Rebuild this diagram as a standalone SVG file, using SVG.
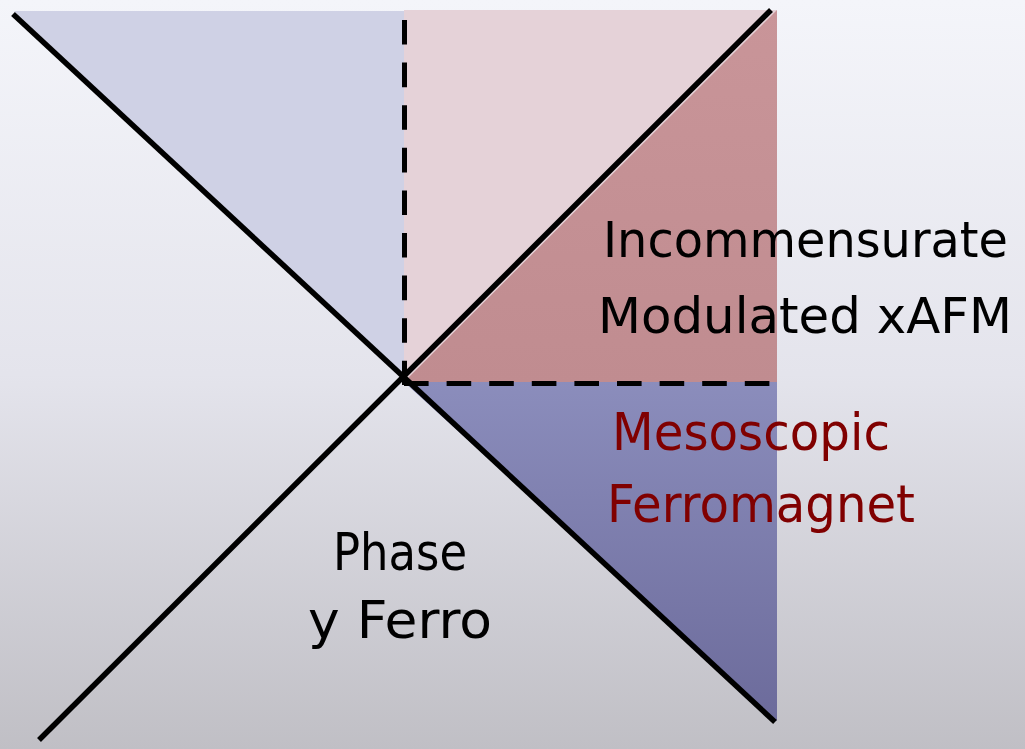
<svg xmlns="http://www.w3.org/2000/svg" width="1025" height="749" viewBox="0 0 1025 749">
  <defs>
    <linearGradient id="bg" x1="0" y1="0" x2="0" y2="1">
      <stop offset="0" stop-color="#f4f5fa"/>
      <stop offset="0.5" stop-color="#e4e4ec"/>
      <stop offset="1" stop-color="#c0bfc5"/>
    </linearGradient>
    <linearGradient id="blueLow" x1="0" y1="382" x2="0" y2="720" gradientUnits="userSpaceOnUse">
      <stop offset="0" stop-color="#8b8dbc"/>
      <stop offset="1" stop-color="#6c6b9b"/>
    </linearGradient>
    <linearGradient id="pinkDark" x1="0" y1="10" x2="0" y2="382" gradientUnits="userSpaceOnUse">
      <stop offset="0" stop-color="#c99599"/>
      <stop offset="1" stop-color="#c08c90"/>
    </linearGradient>
    <style>
      .edge { stroke: #000; stroke-width: 5.5; fill: none; }
      .dash { stroke: #000; stroke-width: 5; fill: none; stroke-dasharray: 24.6 18; }
      .lbl { font-family: "DejaVu Sans", "Liberation Sans", sans-serif; font-size: 52px; }
      .lbl.tight { font-size: 49px; }
      .dark { fill: #000; }
      .red { fill: #800000; }
    </style>
  </defs>

  <rect width="1025" height="749" fill="url(#bg)"/>

  <!-- shaded regions -->
  <g id="region-upper-left">
    <polygon points="14,11 404,11 404,380" fill="#cfd1e5"/>
  </g>
  <g id="region-upper-right">
    <rect x="404" y="10" width="373" height="372" fill="#e5d2d8"/>
    <polygon points="404,382 777,10 777,382" fill="url(#pinkDark)"/>
  </g>
  <g id="region-lower-right">
    <polygon points="404,382 777,382 777,721" fill="url(#blueLow)"/>
  </g>

  <!-- boundary lines -->
  <g id="connectors">
    <line class="edge" x1="13" y1="14" x2="775" y2="722"/>
    <line class="edge" x1="39" y1="740" x2="771" y2="10"/>
    <line class="dash" x1="404.5" y1="20" x2="404.5" y2="385"/>
    <line class="dash" x1="404" y1="383.5" x2="777" y2="383.5"/>
  </g>

  <!-- labels -->
  <g id="label-incommensurate">
    <text class="lbl tight dark" x="603" y="257" textLength="405" lengthAdjust="spacingAndGlyphs">Incommensurate</text>
    <text class="lbl tight dark" x="598" y="333" textLength="414" lengthAdjust="spacingAndGlyphs">Modulated xAFM</text>
  </g>
  <g id="label-mesoscopic">
    <text class="lbl red" x="612" y="450" textLength="278" lengthAdjust="spacingAndGlyphs">Mesoscopic</text>
    <text class="lbl red" x="607" y="522" textLength="308" lengthAdjust="spacingAndGlyphs">Ferromagnet</text>
  </g>
  <g id="label-phase">
    <text class="lbl dark" x="333" y="570" textLength="134" lengthAdjust="spacingAndGlyphs">Phase</text>
    <text class="lbl dark" x="308" y="638" textLength="184" lengthAdjust="spacingAndGlyphs">y Ferro</text>
  </g>
</svg>
